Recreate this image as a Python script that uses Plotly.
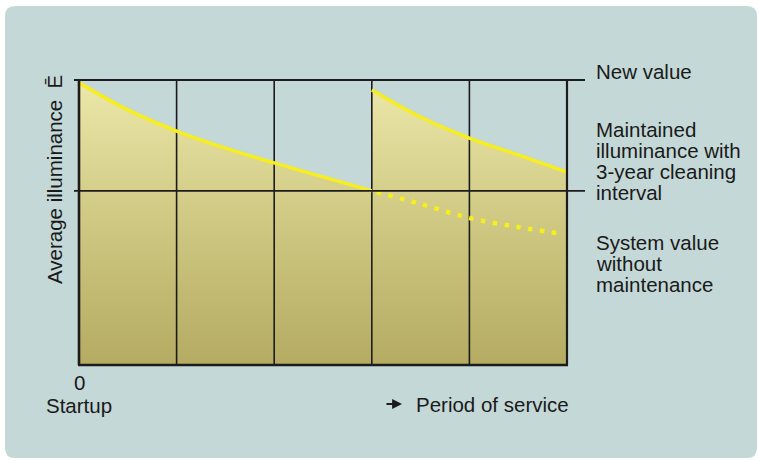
import plotly.graph_objects as go

# --- data (relative illuminance, new value = 1.0) ---
years_first = [0, 0.5, 1, 1.5, 2, 2.5, 3]
illum_first = [0.99, 0.895, 0.821, 0.761, 0.709, 0.660, 0.611]

years_after_clean = [3, 3.5, 4, 4.5, 5]
illum_after_clean = [0.965, 0.870, 0.796, 0.737, 0.677]

years_no_maint = [3.05, 3.5, 4, 4.5, 4.9]
illum_no_maint = [0.607, 0.565, 0.516, 0.484, 0.463]

grid_years = [1, 2, 3, 4]
new_value = 1.0
maintained_value = 0.611

# --- page geometry (pixels) ---
W, H = 759, 461
L, R, T, B = 79, 567, 80, 365
PW, PH = R - L, B - T

PANEL = "#c4d8d7"
INK = "#1c1c1c"
YELLOW = "#f6ee1e"
FONT = "Liberation Sans, Arial, sans-serif"
FS = 20.5


def xp(px):
    return (px - L) / PW


def yp(py):
    return (B - py) / PH


fig = go.Figure()

fill_grad = dict(type="vertical", start=0, stop=1,
                 colorscale=[[0, "#b5ab63"], [0.5, "#cec882"], [1, "#ece8aa"]])

# filled area under the maintained-illuminance curve
for xs, ys in [(years_first, illum_first), (years_after_clean, illum_after_clean)]:
    fig.add_trace(go.Scatter(x=xs, y=ys, mode="lines", line=dict(width=0, shape="spline"),
                             fill="tozeroy", fillgradient=fill_grad, hoverinfo="skip"))

# vertical year grid lines, drawn over the fill
gx, gy = [], []
for g in grid_years:
    gx += [g, g, None]
    gy += [0, 1, None]
fig.add_trace(go.Scatter(x=gx, y=gy, mode="lines", line=dict(color=INK, width=1.6),
                         hoverinfo="skip"))

# maintained illuminance with cleaning
for xs, ys in [(years_first, illum_first), (years_after_clean, illum_after_clean)]:
    fig.add_trace(go.Scatter(x=xs, y=ys, mode="lines",
                             line=dict(color=YELLOW, width=3.5, shape="spline"),
                             hoverinfo="skip"))

# system value without maintenance
fig.add_trace(go.Scatter(x=years_no_maint, y=illum_no_maint, mode="lines",
                         line=dict(color=YELLOW, width=4.5, dash="4.5px,7.5px", shape="spline"),
                         hoverinfo="skip"))

shapes = []
# rounded background panel
x0, x1, y0, y1, r = xp(5), xp(757), yp(6), yp(458), 10
rx, ry = r / PW, r / PH
panel_path = (f"M {x0+rx},{y0} L {x1-rx},{y0} Q {x1},{y0} {x1},{y0-ry} "
              f"L {x1},{y1+ry} Q {x1},{y1} {x1-rx},{y1} L {x0+rx},{y1} "
              f"Q {x0},{y1} {x0},{y1+ry} L {x0},{y0-ry} Q {x0},{y0} {x0+rx},{y0} Z")
shapes.append(dict(type="path", path=panel_path, xref="paper", yref="paper",
                   fillcolor=PANEL, line=dict(width=0), layer="below"))

# frame and reference levels
line_specs = [
    (xp(79), 0, xp(79), 1, 2.6),                 # left axis
    (xp(78), 0, 1 + 1 / PW, 0, 2.6),             # bottom axis
    (1, 0, 1, 1, 2.2),                           # right edge
    (xp(74), new_value, xp(585), new_value, 2.2),
    (xp(74), maintained_value, xp(585), maintained_value, 1.8),
]
for ax0, ay0, ax1, ay1, w in line_specs:
    shapes.append(dict(type="line", xref="paper", yref="paper", x0=ax0, y0=ay0,
                       x1=ax1, y1=ay1, line=dict(color=INK, width=w), layer="above"))

annotations = []


def label(text, px, py, size=FS, xanchor="left"):
    annotations.append(dict(text=text, x=xp(px), y=yp(py), xref="paper", yref="paper",
                            xanchor=xanchor, yanchor="middle", showarrow=False,
                            font=dict(family=FONT, size=size, color="#1a1a1a")))


label("New value", 594, 72)
for i, t in enumerate(["Maintained", "illuminance with", "3-year cleaning", "interval"]):
    label(t, 594, 129.5 + 21 * i)
for i, t in enumerate(["System value", "without", "maintenance"]):
    label(t, 594, 242 + 21 * i)
label("0", 79, 382, xanchor="center")
label("Startup", 44, 405)
label("Period of service", 414, 404)

# arrow in front of the x-axis caption
annotations.append(dict(text="", x=xp(402), y=yp(404), xref="paper", yref="paper",
                        ax=-17, ay=0, showarrow=True, arrowhead=2, arrowsize=1.1,
                        arrowwidth=1.8, arrowcolor="#1a1a1a", standoff=0))

annotations.append(dict(text="Average illuminance  E\u0304", x=xp(54), y=yp(180),
                        xref="paper", yref="paper", xanchor="center", yanchor="middle",
                        textangle=-90, showarrow=False,
                        font=dict(family=FONT, size=FS, color="#1a1a1a")))

fig.update_layout(
    width=W, height=H,
    margin=dict(l=L, r=W - R, t=T, b=H - B, pad=0),
    paper_bgcolor="white", plot_bgcolor="rgba(0,0,0,0)",
    showlegend=False,
    shapes=shapes, annotations=annotations,
    xaxis=dict(range=[0, 5], showgrid=False, zeroline=False, showticklabels=False,
               showline=False, fixedrange=True),
    yaxis=dict(range=[0, 1], showgrid=False, zeroline=False, showticklabels=False,
               showline=False, fixedrange=True),
)

fig.write_html("out.html", config={"displayModeBar": False})
